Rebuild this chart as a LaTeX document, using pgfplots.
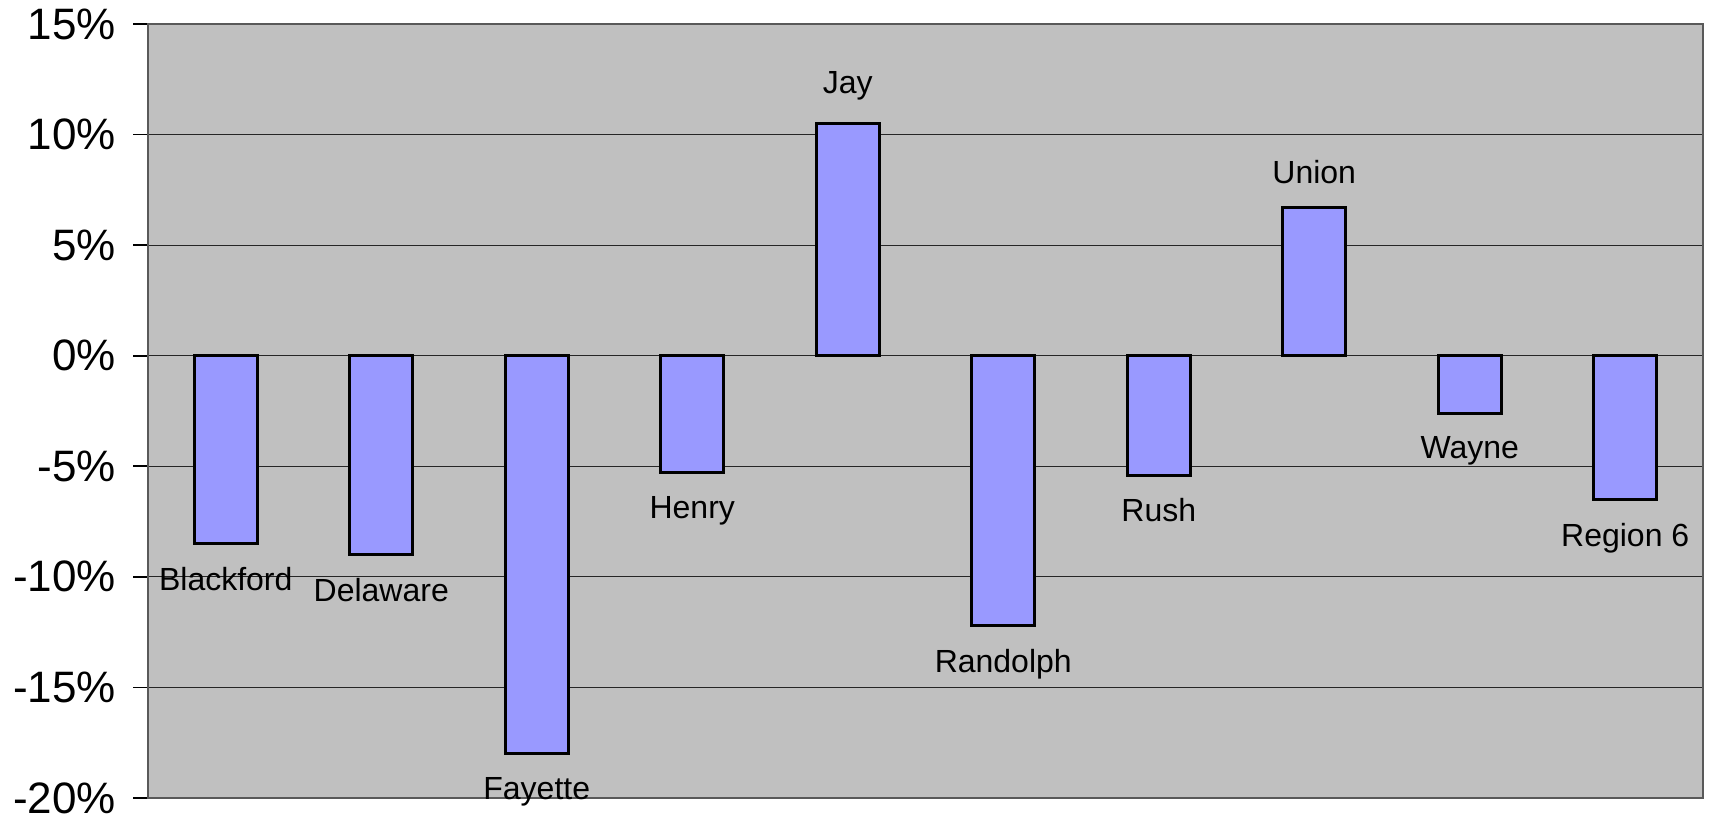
\documentclass[border=0pt]{standalone}
\usepackage{pgfplots}
\pgfplotsset{compat=1.18}
\usepackage{fontspec}
\setmainfont{Liberation Sans}
\definecolor{plotbg}{HTML}{C0C0C0}
\definecolor{barfill}{HTML}{9999FF}

\begin{document}
\begin{tikzpicture}
\begin{axis}[
    at={(74pt,10.5pt)}, anchor=south west,
    scale only axis, width=777.5pt, height=387pt,
    xmin=-0.5, xmax=9.5, ymin=-20, ymax=15,
    xtick=\empty,
    ytick={-20,-15,...,15},
    yticklabels={-20\%,-15\%,-10\%,-5\%,0\%,5\%,10\%,15\%},
    yticklabel style={font=\fontsize{22}{26}\selectfont, xshift=-5pt},
    ytick pos=left,
    tick align=outside, major tick length=7.5pt,
    tick style={black, line width=0.8pt},
    ymajorgrids, grid style={black!85, line width=0.6pt},
    axis background/.style={fill=plotbg},
    axis line style={draw=gray!70!black, line width=1pt},
    ybar, bar width=31.5pt, bar shift=0pt,
    nodes near coords, point meta=explicit symbolic,
    every node near coord/.append style={font=\fontsize{16}{19}\selectfont, text=black, inner ysep=11pt},
    clip=false,
]
% percent change by county: rising
\addplot[fill=barfill, draw=black, line width=1.5pt,
    every node near coord/.append style={anchor=south}] coordinates {
    (4,10.5) [Jay]
    (7,6.7) [Union]
};
% falling
\addplot[fill=barfill, draw=black, line width=1.5pt,
    every node near coord/.append style={anchor=north}] coordinates {
    (0,-8.5) [Blackford]
    (1,-9.0) [Delaware]
    (2,-18.0) [Fayette]
    (3,-5.3) [Henry]
    (5,-12.2) [Randolph]
    (6,-5.4) [Rush]
    (8,-2.6) [Wayne]
    (9,-6.5) [Region 6]
};
\end{axis}
\pgfresetboundingbox
\path[use as bounding box] (0,0) rectangle (855pt,409.5pt);
\end{tikzpicture}
\end{document}
